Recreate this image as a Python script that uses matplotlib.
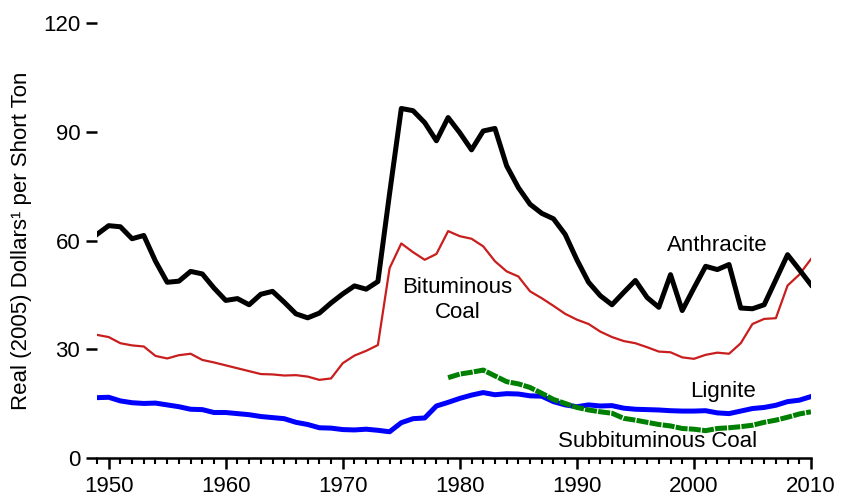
import numpy as np
import matplotlib.pyplot as plt
from matplotlib.ticker import MultipleLocator

plt.rcParams['font.family'] = ['Liberation Sans', 'DejaVu Sans']

# Real (2005) dollars per short ton
years = list(range(1949, 2011))

anthracite = [61.7, 64.1, 63.8, 60.5, 61.4, 54.3, 48.5, 48.8, 51.5, 50.8,
              46.9, 43.5, 44.0, 42.3, 45.2, 46.0, 43.0, 39.8, 38.7, 40.0,
              42.8, 45.3, 47.5, 46.6, 48.7, 73.0, 96.4, 95.8, 92.5, 87.5,
              93.9, 89.7, 85.0, 90.2, 90.9, 80.6, 74.6, 70.0, 67.5, 66.0,
              61.7, 54.7, 48.5, 44.8, 42.3, 45.7, 49.0, 44.3, 41.6, 50.6,
              40.7, 46.9, 52.9, 52.0, 53.4, 41.4, 41.2, 42.3, 49.2, 56.1,
              52.0, 47.8]

bituminous = [34.0, 33.4, 31.7, 31.1, 30.8, 28.2, 27.5, 28.4, 28.8, 27.1,
              26.4, 25.6, 24.8, 24.0, 23.2, 23.1, 22.8, 22.9, 22.5, 21.6,
              22.0, 26.2, 28.3, 29.6, 31.2, 52.4, 59.2, 56.8, 54.7, 56.3,
              62.6, 61.2, 60.5, 58.4, 54.3, 51.5, 50.1, 46.0, 44.1, 42.0,
              39.8, 38.2, 37.0, 34.9, 33.4, 32.3, 31.7, 30.6, 29.4, 29.2,
              27.8, 27.4, 28.5, 29.1, 28.8, 31.7, 37.0, 38.4, 38.6, 47.6,
              50.6, 54.9]

lignite = [16.7, 16.8, 15.8, 15.3, 15.1, 15.2, 14.7, 14.2, 13.5, 13.4,
           12.6, 12.6, 12.3, 12.0, 11.5, 11.2, 10.9, 9.9, 9.3, 8.4,
           8.3, 7.9, 7.8, 8.0, 7.7, 7.3, 9.8, 10.9, 11.1, 14.4,
           15.4, 16.5, 17.4, 18.1, 17.5, 17.8, 17.7, 17.2, 17.1, 15.6,
           14.7, 14.2, 14.7, 14.4, 14.5, 13.8, 13.5, 13.4, 13.3, 13.1,
           13.0, 13.0, 13.1, 12.5, 12.3, 13.0, 13.7, 14.0, 14.6, 15.6,
           16.0, 17.0]

sub_years = list(range(1979, 2011))
subbituminous = [22.2, 23.2, 23.7, 24.3, 22.7, 21.1, 20.5, 19.5, 17.9, 16.2,
                 15.1, 14.0, 13.3, 12.8, 12.4, 11.0, 10.5, 9.9, 9.3, 8.9,
                 8.2, 8.0, 7.6, 8.2, 8.4, 8.7, 9.1, 9.9, 10.5, 11.3,
                 12.2, 12.8]

fig = plt.figure(figsize=(8.41, 4.97), dpi=100)
ax = fig.add_axes([0.1153, 0.078, 0.849, 0.876])

ax.plot(years, bituminous, color='#c81e1e', linewidth=1.6, zorder=2)
ax.plot(years, lignite, color='#0000ff', linewidth=3.6, zorder=3)
ax.plot(sub_years, subbituminous, color='#008000', linewidth=3.6,
        dashes=(2.4, 0.25), zorder=3)
ax.plot(years, anthracite, color='black', linewidth=3.6, zorder=4)

# series labels
ax.text(2002, 58.6, 'Anthracite', fontsize=16, ha='center', va='center')
ax.text(1979.8, 43.6, 'Bituminous\nCoal', fontsize=16, ha='center',
        va='center', linespacing=1.25)
ax.text(2002.5, 18.5, 'Lignite', fontsize=16, ha='center', va='center')
ax.text(1996.9, 4.7, 'Subbituminous Coal', fontsize=16, ha='center',
        va='center')

ax.set_xlim(1949, 2010)
ax.set_ylim(0, 120)
ax.set_yticks([0, 30, 60, 90, 120])
ax.set_xticks([1950, 1960, 1970, 1980, 1990, 2000, 2010])
ax.xaxis.set_minor_locator(MultipleLocator(1))

for side in ['top', 'right', 'left']:
    ax.spines[side].set_visible(False)
ax.spines['bottom'].set_linewidth(1.8)

ax.tick_params(axis='y', which='major', length=8, width=1.8,
               labelsize=16, pad=4)
ax.tick_params(axis='x', which='major', length=8, width=1.8,
               labelsize=16, pad=5)
ax.tick_params(axis='x', which='minor', length=4.5, width=1.5)

ax.set_ylabel('Real (2005) Dollars\u00b9 per Short Ton', fontsize=16,
              labelpad=8)
ax.patch.set_visible(False)

plt.savefig('out.png', dpi=100)
